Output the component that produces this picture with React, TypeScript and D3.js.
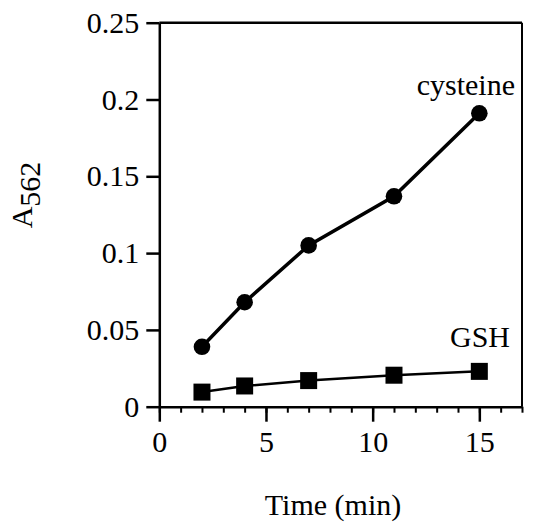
import React, { useEffect, useRef } from 'react';
import * as d3 from 'd3';

const timeMin = [2, 4, 7, 11, 15];
const cysteine = [0.039, 0.068, 0.105, 0.137, 0.191];
const gsh = [0.0095, 0.0135, 0.017, 0.0205, 0.023];
const xMajorTicks = [0, 5, 10, 15];
const xMinorTicks = d3.range(0, 18);
const yTicks = [0, 0.05, 0.1, 0.15, 0.2, 0.25];

const WIDTH = 558;
const HEIGHT = 525;
const FONT = "'Liberation Serif', 'Times New Roman', Times, serif";

const App = () => {
  const ref = useRef<SVGSVGElement>(null);

  useEffect(() => {
    const svg = d3.select(ref.current);
    svg.selectAll('*').remove();

    const margin = { top: 22.7, right: 36, bottom: 118.3, left: 159.3 };
    const x = d3.scaleLinear().domain([0, 17]).range([margin.left, WIDTH - margin.right]);
    const y = d3.scaleLinear().domain([0, 0.25]).range([HEIGHT - margin.bottom, margin.top]);

    // frame: top and right borders
    svg.append('line')
      .attr('x1', x(0)).attr('x2', x(17))
      .attr('y1', y(0.25)).attr('y2', y(0.25))
      .attr('stroke', '#000').attr('stroke-width', 2.5);
    svg.append('line')
      .attr('x1', x(17)).attr('x2', x(17))
      .attr('y1', y(0.25)).attr('y2', y(0))
      .attr('stroke', '#000').attr('stroke-width', 2);

    // x axis: minor ticks, then major ticks with labels
    svg.append('g')
      .attr('transform', `translate(0,${y(0)})`)
      .call(d3.axisBottom(x).tickValues(xMinorTicks).tickSize(6).tickFormat(() => ''))
      .call(g => g.select('.domain').remove())
      .selectAll('line').attr('stroke-width', 2);

    const xAxis = svg.append('g')
      .attr('transform', `translate(0,${y(0)})`)
      .call(d3.axisBottom(x).tickValues(xMajorTicks).tickSize(15).tickSizeOuter(0).tickPadding(9).tickFormat(d => String(d)));
    xAxis.select('.domain').attr('stroke-width', 2.5);
    xAxis.selectAll('line').attr('stroke-width', 2.5);
    xAxis.selectAll('text').attr('font-family', FONT).attr('font-size', 30).attr('fill', '#000');

    // y axis
    const yAxis = svg.append('g')
      .attr('transform', `translate(${x(0)},0)`)
      .call(d3.axisLeft(y).tickValues(yTicks).tickSize(13).tickSizeOuter(0).tickPadding(7).tickFormat(d => String(d)));
    yAxis.select('.domain').attr('stroke-width', 2.5);
    yAxis.selectAll('line').attr('stroke-width', 2.5);
    yAxis.selectAll('text').attr('font-family', FONT).attr('font-size', 30).attr('fill', '#000');
    xAxis.attr('font-family', FONT);
    yAxis.attr('font-family', FONT);

    const line = d3.line<number>()
      .x((_, i) => x(timeMin[i]))
      .y(d => y(d));

    // GSH series
    svg.append('path')
      .datum(gsh)
      .attr('fill', 'none')
      .attr('stroke', '#000')
      .attr('stroke-width', 2.5)
      .attr('d', line);
    svg.selectAll('.sq')
      .data(gsh)
      .join('rect')
      .attr('x', (_, i) => x(timeMin[i]) - 8.5)
      .attr('y', d => y(d) - 8.5)
      .attr('width', 17)
      .attr('height', 17)
      .attr('fill', '#000');

    // cysteine series
    svg.append('path')
      .datum(cysteine)
      .attr('fill', 'none')
      .attr('stroke', '#000')
      .attr('stroke-width', 3.5)
      .attr('d', line);
    svg.selectAll('.dot')
      .data(cysteine)
      .join('circle')
      .attr('cx', (_, i) => x(timeMin[i]))
      .attr('cy', d => y(d))
      .attr('r', 8.3)
      .attr('fill', '#000');

    // series labels
    svg.append('text')
      .attr('x', 515).attr('y', 95)
      .attr('text-anchor', 'end')
      .attr('font-family', FONT).attr('font-size', 30)
      .text('cysteine');
    svg.append('text')
      .attr('x', 510).attr('y', 346.7)
      .attr('text-anchor', 'end')
      .attr('font-family', FONT).attr('font-size', 30)
      .text('GSH');

    // x axis title
    svg.append('text')
      .attr('x', 333).attr('y', 515)
      .attr('text-anchor', 'middle')
      .attr('font-family', FONT).attr('font-size', 30)
      .text('Time (min)');

    // y axis title A562
    const yTitle = svg.append('text')
      .attr('transform', 'translate(31.7,195) rotate(-90)')
      .attr('text-anchor', 'middle')
      .attr('font-family', FONT).attr('font-size', 30);
    yTitle.append('tspan').text('A');
    yTitle.append('tspan').attr('dy', 8.5).text('562');
  }, []);

  return (
    <svg
      ref={ref}
      width={WIDTH}
      height={HEIGHT}
      style={{ position: 'absolute', left: 0, top: 0, background: '#fff' }}
    />
  );
};

export default App;
